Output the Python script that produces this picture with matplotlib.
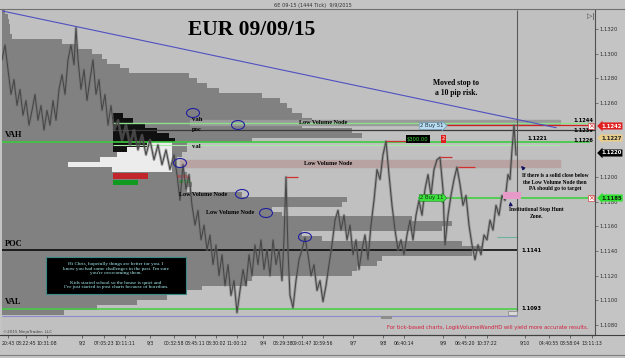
import matplotlib
matplotlib.use('Agg')
import matplotlib.pyplot as plt
import numpy as np
from matplotlib.patches import Rectangle, Ellipse, FancyArrowPatch
from matplotlib.transforms import IdentityTransform

# ---------------- data ----------------
bar_index = [2, 5, 8, 11, 14, 17, 20, 23, 26, 29, 32, 35, 38, 41, 44, 47, 50, 53, 56, 59,
             62, 65, 68, 71, 74, 76, 78, 81, 84, 87, 90, 93, 96, 99, 102, 105, 108, 111, 114, 118,
             122, 126, 130, 134, 138, 142, 146, 150, 154, 158, 162, 166, 170, 174, 177, 180, 183, 186, 189, 192,
             195, 198, 201, 204, 207, 210, 213, 216, 219, 222, 225, 228, 231, 234, 237, 240, 243, 246, 249, 252,
             255, 258, 261, 264, 267, 270, 273, 276, 279, 282, 284, 286, 288, 290, 293, 296, 299, 302, 305, 308,
             311, 314, 317, 320, 323, 326, 329, 332, 335, 338, 341, 344, 347, 350, 353, 356, 359, 362, 365, 368,
             371, 374, 377, 380, 383, 386, 389, 392, 395, 398, 401, 404, 407, 410, 413, 416, 419, 422, 425, 428,
             431, 434, 437, 440, 443, 445, 448, 451, 454, 457, 460, 463, 466, 469, 472, 475, 478, 481, 484, 487,
             490, 493, 496, 499, 502, 505, 508, 510, 512, 514, 516]
close_price = [1.1295, 1.1307, 1.1287, 1.1267, 1.1279, 1.1258, 1.1271, 1.1250, 1.1262, 1.1242,
               1.1254, 1.1267, 1.1246, 1.1258, 1.1238, 1.1254, 1.1242, 1.1262, 1.1246, 1.1271,
               1.1283, 1.1267, 1.1295, 1.1307, 1.1291, 1.1321, 1.1295, 1.1271, 1.1287, 1.1262,
               1.1279, 1.1295, 1.1267, 1.1279, 1.1254, 1.1267, 1.1242, 1.1258, 1.1238, 1.1246,
               1.1230, 1.1242, 1.1226, 1.1238, 1.1222, 1.1234, 1.1218, 1.1230, 1.1214, 1.1226,
               1.1210, 1.1222, 1.1206, 1.1218, 1.1202, 1.1181, 1.1210, 1.1190, 1.1202, 1.1177,
               1.1161, 1.1173, 1.1149, 1.1161, 1.1141, 1.1153, 1.1129, 1.1145, 1.1120, 1.1137,
               1.1112, 1.1129, 1.1104, 1.1116, 1.1090, 1.1108, 1.1125, 1.1112, 1.1137, 1.1120,
               1.1145, 1.1129, 1.1149, 1.1125, 1.1141, 1.1120, 1.1149, 1.1129, 1.1141, 1.1116,
               1.1150, 1.1200, 1.1140, 1.1104, 1.1094, 1.1116, 1.1133, 1.1141, 1.1151, 1.1137,
               1.1120, 1.1129, 1.1108, 1.1116, 1.1099, 1.1112, 1.1129, 1.1145, 1.1165, 1.1173,
               1.1157, 1.1169, 1.1149, 1.1161, 1.1137, 1.1149, 1.1125, 1.1141, 1.1153, 1.1133,
               1.1161, 1.1181, 1.1206, 1.1198, 1.1218, 1.1229, 1.1202, 1.1177, 1.1157, 1.1141,
               1.1149, 1.1137, 1.1153, 1.1165, 1.1149, 1.1169, 1.1181, 1.1169, 1.1190, 1.1202,
               1.1185, 1.1206, 1.1214, 1.1216, 1.1190, 1.1145, 1.1169, 1.1185, 1.1198, 1.1208,
               1.1194, 1.1177, 1.1185, 1.1161, 1.1145, 1.1133, 1.1145, 1.1137, 1.1153, 1.1149,
               1.1165, 1.1157, 1.1177, 1.1169, 1.1185, 1.1181, 1.1202, 1.1198, 1.1222, 1.1242,
               1.1218]

# composite volume profile (levels from 1.1334 down to 1.1090, 4-pip rows)
profile_top, profile_bottom, profile_step = 1.1334, 1.1090, 0.0004
composite_volume = [3, 6, 7, 8, 8, 10, 60, 75, 90, 100,
                    105, 118, 127, 187, 195, 205, 217, 260, 278, 285,
                    290, 300, 310, 300, 350, 360, 250, 185, 185, 180,
                    175, 175, 180, 185, 188, 190, 185, 240, 345, 340,
                    270, 280, 410, 450, 440, 300, 320, 460, 480, 470,
                    380, 375, 355, 350, 250, 245, 200, 185, 165, 135,
                    95, 62]

# session profile (black, anchored left) and its split profile (white, anchored right)
session_prices = [1.1250, 1.1246, 1.1242, 1.1238, 1.1234, 1.1230, 1.1226, 1.1222]
session_volume = [10, 20, 32, 44, 56, 62, 40, 20]
split_prices = [1.1226, 1.1222, 1.1218, 1.1214, 1.1210, 1.1206]
split_volume = [25, 45, 55, 72, 104, 60]

# key levels
vah, poc_level, val = 1.1228, 1.1141, 1.1093
session_vah, session_poc, session_val = 1.1244, 1.1238, 1.1226
stop_price, target_price, entry_price = 1.1242, 1.1183, 1.1227
trend_x = [0, 556]
trend_p = [1.1335, 1.1240]

price_ticks = [1.1320, 1.1300, 1.1280, 1.1260, 1.1200, 1.1180, 1.1160, 1.1140, 1.1120, 1.1100, 1.1080]
time_tick_pos = [8, 26, 47, 82, 104, 125, 150, 174, 195, 216, 237, 263, 283, 302, 323,
                 353, 383, 404, 443, 465, 487, 525, 549, 570, 592]
time_tick_labels = ['20:43', '08:22:45', '10:31:08', '9/2', '07:05:23', '10:11:11', '9/3',
                    '00:32:58', '08:45:11', '08:30:02', '11:00:12', '9/4', '08:29:38', '09:01:47',
                    '10:59:56', '9/7', '9/8', '06:40:14', '9/9', '06:45:20', '10:37:22', '9/10',
                    '04:40:55', '08:58:04', '13:11:13']

# ---------------- figure ----------------
W, H = 625, 358
fig = plt.figure(figsize=(W / 100, H / 100), dpi=100)
fig.patch.set_facecolor('#c4c4c4')
ax = fig.add_axes([2 / W, (H - 335) / H, (595 - 2) / W, (335 - 10) / H])
ax.set_facecolor('#c0c0c0')
ax.set_xlim(2, 595)
ax.set_ylim(1.10719, 1.13354)

SERIF = 'Liberation Serif'


def ftext(x, y, s, **kw):
    fig.text(x / W, 1 - y / H, s, **kw)


# composite profile
levels = np.linspace(profile_top, profile_bottom, len(composite_volume))
ax.barh(levels, composite_volume, height=profile_step, left=2, color='#818181',
        edgecolor='none', zorder=1)

# low volume node bands
ax.add_patch(Rectangle((190, 1.1242), 370, 0.0004, color='#9a9a9a', zorder=2))
ax.add_patch(Rectangle((180, 1.12085), 380, 0.0005, color='#b9a2a2', zorder=2))

# session profiles
ax.barh(session_prices, session_volume, height=0.0004, left=113, color='#101010', zorder=3)
ax.barh(split_prices, split_volume, height=0.0004, left=[172 - v for v in split_volume],
        color='#ececec', zorder=3)
ax.barh([1.12010, 1.11955], [35, 25], height=0.00045, left=113,
        color=['#c0262c', '#109a20'], zorder=3)

# horizontal levels
ax.hlines(vah, 2, 590, color='#3ccc3c', lw=1.2, zorder=4)
ax.hlines(session_vah, 113, 590, color='#8ee08e', lw=1.0, zorder=4)
ax.hlines(session_poc, 113, 595, color='#3a3a3a', lw=0.9, zorder=4)
ax.hlines(session_val, 113, 560, color='#a8e8a8', lw=0.8, zorder=4)
ax.hlines(stop_price, 447, 590, color='#d02020', lw=0.9, zorder=4)
ax.hlines(target_price, 418, 590, color='#40d040', lw=1.2, zorder=4)
ax.hlines(poc_level, 2, 517, color='#000000', lw=1.1, zorder=4)
ax.hlines(val, 2, 517, color='#40d040', lw=1.1, zorder=4)
ax.hlines(1.1087, 2, 517, color='#8a8ad0', lw=0.8, zorder=4)
ax.hlines(1.1151, 497, 517, color='#70b0a0', lw=0.8, zorder=4)
ax.vlines(517, 1.1091, 1.13354, color='#5a5a5a', lw=0.8, zorder=4)

# red swing-high markers
for x0, x1, p in [(386, 408, 1.1229), (440, 452, 1.1216), (458, 475, 1.1208), (286, 298, 1.1200)]:
    ax.hlines(p, x0, x1, color='#d03030', lw=0.9, zorder=6)

# price
ax.plot(bar_index, close_price, color='#707070', lw=2.0, zorder=5, alpha=0.5)
ax.plot(bar_index, close_price, color='#474747', lw=0.75, zorder=5)

# trend line
ax.plot(trend_x, trend_p, color='#5050c0', lw=0.8, zorder=6)

# small boxes near bottom
ax.add_patch(Rectangle((508, 1.10880), 9, 0.00035, facecolor='#d8d8d8', edgecolor='#707070',
                       lw=0.4, zorder=6))
ax.add_patch(Rectangle((381, 1.10845), 11, 0.0003, facecolor='#8c8c8c', edgecolor='none', zorder=6))

# axes styling
for s in ['top', 'left']:
    ax.spines[s].set_visible(False)
ax.spines['right'].set_color('#505050')
ax.spines['bottom'].set_color('#404040')
ax.spines['right'].set_linewidth(0.8)
ax.spines['bottom'].set_linewidth(0.8)
ax.yaxis.tick_right()
ax.set_yticks(price_ticks)
ax.set_yticklabels([f'{p:.4f}' for p in price_ticks], fontsize=3.8, color='#303030')
ax.tick_params(axis='y', length=2, pad=1, width=0.5, color='#505050')
ax.set_xticks(time_tick_pos)
ax.set_xticklabels(time_tick_labels, fontsize=3.3, color='#202020')
ax.tick_params(axis='x', length=2, pad=2, width=0.5, color='#404040')

# frame lines
fig.add_artist(plt.Line2D([0, 1], [1 - 9 / H, 1 - 9 / H], color='#707070', lw=0.8))
fig.add_artist(plt.Line2D([0, 1], [1 - 335 / H, 1 - 335 / H], color='#404040', lw=0.8))
fig.add_artist(plt.Line2D([0, 1], [1 - 355 / H, 1 - 355 / H], color='#808080', lw=0.8))
ftext(274, 5, '6E 09-15 (1444 Tick)  9/9/2015', fontsize=3.6, color='#303030', va='center')
ftext(587, 16, '\u25B7|', fontsize=5, color='#404040', va='center')

# titles / notes
ftext(188, 30, 'EUR 09/09/15', fontsize=15.5, family=SERIF, weight='bold', va='center')
ftext(456, 88, 'Moved stop to\na 10 pip risk.', fontsize=5.5, family=SERIF, weight='bold',
      ha='center', va='center', linespacing=1.3)
ftext(5, 135, 'VAH', fontsize=6, family=SERIF, weight='bold', va='center')
ftext(5, 244, 'POC', fontsize=6, family=SERIF, weight='bold', va='center')
ftext(5, 302, 'VAL', fontsize=6, family=SERIF, weight='bold', va='center')
ftext(192, 119, 'vah', fontsize=4.8, family=SERIF, weight='bold', va='center')
ftext(192, 130, 'poc', fontsize=4.8, family=SERIF, weight='bold', va='center')
ftext(192, 147, 'val', fontsize=4.8, family=SERIF, weight='bold', va='center')
for cx, cy in [(323, 123), (328, 163), (203, 194), (230, 213)]:
    ftext(cx, cy, 'Low Volume Node', fontsize=4.4, family=SERIF, weight='bold',
          ha='center', va='center')
ftext(177, 177, '50.9%', fontsize=3, color='#c02020', va='center')
ftext(179, 182, '49.1%', fontsize=3, color='#108a10', va='center')

for cx, cy in [(193, 113), (238, 125), (180, 163), (242, 194), (266, 213), (305, 237)]:
    fig.add_artist(Ellipse((cx, H - cy), 13, 9, fill=False, edgecolor='#2020a0', lw=0.8,
                           transform=IdentityTransform()))

# message box
fig.add_artist(Rectangle((46, H - 294), 140, 37, facecolor='#000000', edgecolor='#3a8a8a',
                         lw=0.8, transform=IdentityTransform()))
msg = ("Hi Chris, hopefully things are better for you. I\n"
       "know you had some challenges in the past. I'm sure\n"
       "you're overcoming them.\n\n"
       "Kids started school so the house is quiet and\n"
       "I've just started to post charts because of boredom.")
ftext(116, 275.5, msg, fontsize=3.7, family=SERIF, color='#a8f0f0', ha='center',
      va='center', linespacing=1.22)

# right side annotations
ftext(555, 182, 'If there is a solid close below\nthe Low Volume Node then\nPA should go to target',
      fontsize=4.0, family=SERIF, weight='bold', ha='center', va='center', linespacing=1.3)
ftext(536, 213, 'Institutional Stop Hunt\nZone.', fontsize=4.0, family=SERIF, weight='bold',
      ha='center', va='center', linespacing=1.3)
fig.add_artist(Rectangle((503, H - 199), 18, 7, facecolor='#e69ac8', edgecolor='none',
                         transform=IdentityTransform()))
fig.add_artist(FancyArrowPatch((526, H - 171), (519, H - 164), arrowstyle='-|>', mutation_scale=5,
                               color='#101060', lw=0.8, transform=IdentityTransform()))
fig.add_artist(FancyArrowPatch((511, H - 208), (510, H - 199), arrowstyle='-|>', mutation_scale=5,
                               color='#101060', lw=0.8, transform=IdentityTransform()))

# level value labels
for x, y, s in [(593, 121, '1.1244'), (593, 131, '1.1239'), (593, 141, '1.1226'),
                (527, 139, '1.1221')]:
    ftext(x, y, s, fontsize=3.7, weight='bold', ha='right' if x > 560 else 'left', va='center')
ftext(521, 250, '1.1141', fontsize=3.7, weight='bold', va='center')
ftext(521, 309, '1.1093', fontsize=3.7, weight='bold', va='center')
ftext(3, 332, '\u00a92015 NinjaTrader, LLC', fontsize=3, color='#404040', va='center')
ftext(588, 328, 'For tick-based charts, LogikVolumeWandHD will yield more accurate results.',
      fontsize=3.8, color='#d0203c', ha='right', va='center')

# order labels
ftext(420, 126, '2 Buy 51', fontsize=3.8, color='#203040', va='center',
      bbox=dict(boxstyle='rarrow,pad=0.15', fc='#b8dcf0', ec='#6090b0', lw=0.4))
ftext(420, 198, '2 Buy 11', fontsize=3.8, color='#103010', va='center',
      bbox=dict(boxstyle='rarrow,pad=0.15', fc='#3ce03c', ec='#208020', lw=0.4))
ftext(407, 139, '$300.00', fontsize=3.8, color='#40e040', va='center',
      bbox=dict(boxstyle='square,pad=0.2', fc='#000000', ec='none'))
ftext(442, 139, '2', fontsize=3.8, color='#ffffff', va='center',
      bbox=dict(boxstyle='square,pad=0.2', fc='#e02020', ec='none'))

# price axis markers
for y, s, fc, tc in [(126, '1.1242', '#e02020', '#ffffff'), (138, '1.1227', '#e8cc8a', '#202020'),
                     (153, '1.1220', '#000000', '#ffffff'), (198, '1.1185', '#30e030', '#102010')]:
    ftext(601, y, s, fontsize=3.8, color=tc, va='center', weight='bold',
          bbox=dict(boxstyle='larrow,pad=0.2', fc=fc, ec='none'))
for y in [126, 198]:
    ftext(591, y, '\u00d7', fontsize=5, color='#d02020', ha='center', va='center',
          bbox=dict(boxstyle='square,pad=0.05', fc='#ffffff', ec='#d02020', lw=0.4))

fig.savefig('out.png', dpi=100, facecolor=fig.get_facecolor())
